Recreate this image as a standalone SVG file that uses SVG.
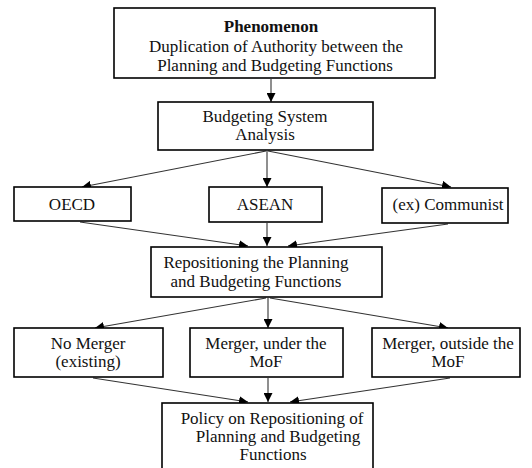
<svg xmlns="http://www.w3.org/2000/svg" width="532" height="468" viewBox="0 0 532 468">
<defs>
<marker id="ah" viewBox="0 0 10 10" refX="10" refY="5" markerWidth="9" markerHeight="9" markerUnits="userSpaceOnUse" orient="auto">
<path d="M0,0 L10,5 L0,10 z" fill="#000"/>
</marker>
<style>
.box{fill:#fff;stroke:#000;stroke-width:1.6}
text{font-family:'Liberation Serif','Times New Roman',serif;font-size:17px;fill:#111;text-anchor:middle}
.b{font-weight:bold}
.c{fill:none;stroke:#333;stroke-width:1.1;marker-end:url(#ah)}
</style>
</defs>
<rect width="532" height="468" fill="#fff"/>
<g id="connectors">
<line class="c" x1="271" y1="79" x2="271" y2="102"/>
<line class="c" x1="266" y1="151" x2="82" y2="187"/>
<line class="c" x1="267" y1="151" x2="267" y2="187"/>
<line class="c" x1="268" y1="151" x2="451" y2="187"/>
<line class="c" x1="80" y1="222" x2="248" y2="246"/>
<line class="c" x1="267" y1="223" x2="267" y2="246"/>
<line class="c" x1="448" y1="224" x2="288" y2="246"/>
<line class="c" x1="266" y1="298" x2="95" y2="328"/>
<line class="c" x1="268" y1="298" x2="268" y2="328"/>
<line class="c" x1="270" y1="298" x2="448" y2="328"/>
<line class="c" x1="93" y1="378" x2="248" y2="402"/>
<line class="c" x1="268" y1="378" x2="268" y2="402"/>
<line class="c" x1="450" y1="378" x2="290" y2="402"/>
</g>
<g id="phenomenon">
<rect class="box" x="114" y="8" width="321" height="70"/>
<text class="b" x="271" y="32">Phenomenon</text>
<text x="276" y="52">Duplication of Authority between the</text>
<text x="275" y="71">Planning and Budgeting Functions</text>
</g>
<g id="analysis">
<rect class="box" x="158" y="102" width="215" height="48"/>
<text x="265" y="122">Budgeting System</text>
<text x="265" y="140">Analysis</text>
</g>
<g id="oecd">
<rect class="box" x="14" y="187" width="117" height="34"/>
<text x="72" y="210">OECD</text>
</g>
<g id="asean">
<rect class="box" x="209" y="187" width="113" height="35"/>
<text x="265" y="210">ASEAN</text>
</g>
<g id="communist">
<rect class="box" x="382" y="188" width="126" height="35"/>
<text x="448" y="210">(ex) Communist</text>
</g>
<g id="repositioning">
<rect class="box" x="151" y="247" width="231" height="50"/>
<text x="256" y="268">Repositioning the Planning</text>
<text x="256" y="287">and Budgeting Functions</text>
</g>
<g id="nomerger">
<rect class="box" x="14" y="328" width="149" height="49"/>
<text x="88" y="349">No Merger</text>
<text x="88" y="367">(existing)</text>
</g>
<g id="mergerunder">
<rect class="box" x="190" y="328" width="153" height="49"/>
<text x="266" y="349">Merger, under the</text>
<text x="266" y="367">MoF</text>
</g>
<g id="mergeroutside">
<rect class="box" x="372" y="328" width="148" height="49"/>
<text x="448" y="349">Merger, outside the</text>
<text x="448" y="367">MoF</text>
</g>
<g id="policy">
<rect class="box" x="162" y="403" width="211" height="70"/>
<text x="272" y="424">Policy on Repositioning of</text>
<text x="278" y="442">Planning and Budgeting</text>
<text x="273" y="460">Functions</text>
</g>
</svg>
